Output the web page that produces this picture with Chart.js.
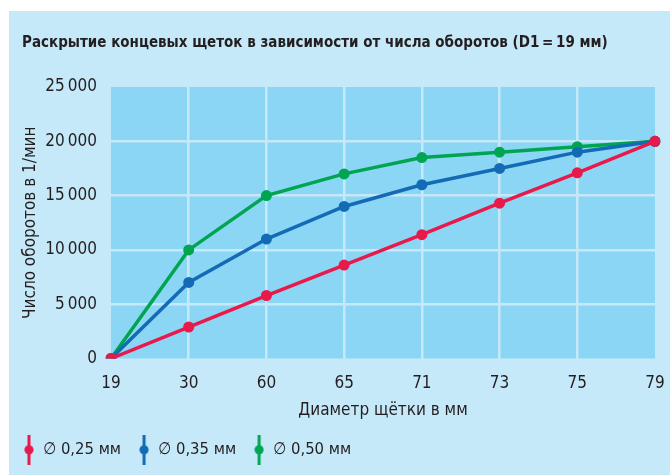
<!DOCTYPE html>
<html>
<head>
<meta charset="utf-8">
<script src="https://cdn.jsdelivr.net/npm/chart.js@4.4.1/dist/chart.umd.min.js"></script>
<style>
  html, body { margin: 0; padding: 0; background: #fff; }
  #panel {
    position: absolute; left: 9px; top: 11px;
    width: 661px; height: 464px;
    background: #c6e9f9;
  }
  #panel canvas { display: block; }
</style>
</head>
<body>
<div id="panel"><canvas id="rpmChart" width="661" height="464"></canvas></div>
<script>
// Brush diameter (mm) on the x axis
const diameters = ['19', '30', '60', '65', '71', '73', '75', '79'];

// Revolutions per minute for each wire thickness
const rpm025 = [0, 2900, 5800, 8600, 11400, 14300, 17100, 20000];
const rpm035 = [0, 7000, 11000, 14000, 16000, 17500, 19000, 20000];
const rpm050 = [0, 10000, 15000, 17000, 18500, 19000, 19500, 20000];

const seriesLabels = ['∅ 0,25 мм', '∅ 0,35 мм', '∅ 0,50 мм'];
const yTicks = [0, 5000, 10000, 15000, 20000, 25000];

const colors = ['#e8194b', '#136bb5', '#00a551'];
const ink = '#231f20';
const fontFamily = "'Liberation Sans Narrow', 'DejaVu Sans Condensed', 'Roboto', sans-serif";

// thin-space thousands separator: 25 000
function fmt(v) {
  return String(v).replace(/\B(?=(\d{3})+(?!\d))/g, '\u2009');
}

// legend marker: short vertical bar with a dot in the middle
function legendMarker(color) {
  const c = document.createElement('canvas');
  c.width = 10; c.height = 30;
  const g = c.getContext('2d');
  g.fillStyle = color;
  g.fillRect(3.5, 0, 3, 30);
  g.beginPath();
  g.arc(5, 15, 4.6, 0, Math.PI * 2);
  g.fill();
  return c;
}
const markers = colors.map(legendMarker);

// darker blue plot background behind the grid
const plotBackground = {
  id: 'plotBackground',
  beforeDraw(chart) {
    const a = chart.chartArea;
    const g = chart.ctx;
    g.save();
    g.fillStyle = '#8bd6f5';
    g.fillRect(a.left, a.top, a.right - a.left, a.bottom - a.top);
    g.restore();
  }
};

// indent the title a little from the panel edge
const titleIndent = {
  id: 'titleIndent',
  afterLayout(chart) {
    if (chart.titleBlock) chart.titleBlock.left = 13;
  }
};

// hide grid lines on the outer edges of the plot
function innerGrid(ctx) {
  const n = ctx.scale.ticks.length;
  return (ctx.index === 0 || ctx.index === n - 1) ? 'rgba(0,0,0,0)' : '#c6e9f9';
}

const datasets = [rpm025, rpm035, rpm050].map((data, i) => ({
  label: seriesLabels[i],
  data: data,
  borderColor: colors[i],
  backgroundColor: colors[i],
  borderWidth: 3.5,
  pointRadius: 5.5,
  pointBorderWidth: 0,
  pointBackgroundColor: colors[i],
  tension: 0,
  fill: false
}));

Chart.defaults.font.family = fontFamily;
Chart.defaults.color = ink;

new Chart(document.getElementById('rpmChart'), {
  type: 'line',
  data: { labels: diameters, datasets: datasets },
  plugins: [plotBackground, titleIndent],
  options: {
    responsive: false,
    animation: false,
    layout: { padding: { left: -3, right: 15, top: 0, bottom: 7 } },
    plugins: {
      title: {
        display: true,
        text: 'Раскрытие концевых щеток в зависимости от числа оборотов (D1\u2009=\u200919 мм)',
        align: 'start',
        color: ink,
        font: { size: 15, weight: 'bold' },
        padding: { top: 23, bottom: 35 }
      },
      legend: {
        position: 'bottom',
        align: 'start',
        labels: {
          usePointStyle: true,
          pointStyleWidth: 12,
          font: { size: 16.5 },
          color: ink,
          padding: 17,
          generateLabels(chart) {
            return Chart.defaults.plugins.legend.labels.generateLabels(chart).map((item, i) => {
              item.pointStyle = markers[i];
              return item;
            });
          }
        }
      },
      tooltip: { enabled: false }
    },
    scales: {
      x: {
        type: 'category',
        offset: false,
        border: { display: false },
        grid: { color: innerGrid, lineWidth: 2.5, drawTicks: false },
        ticks: { color: ink, font: { size: 17 }, padding: 15, maxRotation: 0 },
        title: {
          display: true,
          text: 'Диаметр щётки в мм',
          color: ink,
          font: { size: 17 },
          padding: { top: 4, bottom: 4 }
        },
        afterFit(scale) {
          scale.height = 66;
          scale.paddingLeft = 0;
          scale.paddingRight = 0;
        }
      },
      y: {
        min: 0,
        max: 25000,
        border: { display: false },
        grid: { color: innerGrid, lineWidth: 2.5, drawTicks: false },
        afterBuildTicks(scale) {
          scale.ticks = yTicks.map(v => ({ value: v }));
        },
        ticks: {
          color: ink,
          font: { size: 17 },
          padding: 14,
          callback: v => fmt(v)
        },
        title: {
          display: true,
          text: 'Число оборотов в 1/мин',
          color: ink,
          font: { size: 17 },
          padding: { top: 14, bottom: 0 }
        },
        afterFit(scale) { scale.width = 105; }
      }
    }
  }
});
</script>
</body>
</html>
